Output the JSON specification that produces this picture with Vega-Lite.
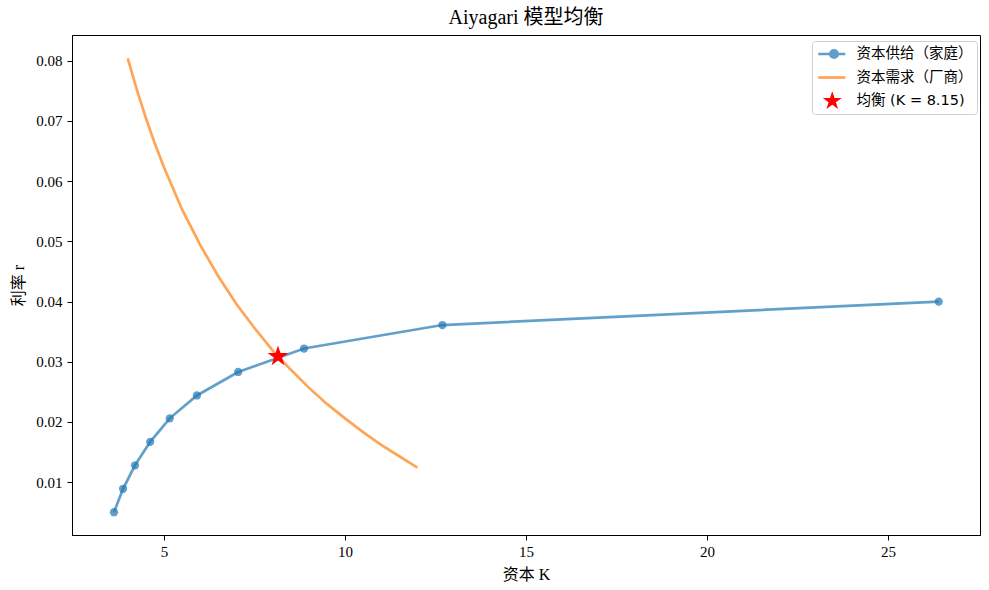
{
  "$schema": "https://vega.github.io/schema/vega-lite/v6.json",
  "width": 908,
  "height": 500,
  "autosize": "none",
  "padding": {"left": 72, "top": 35, "right": 9, "bottom": 55},
  "background": "white",
  "title": {
    "text": "Aiyagari 模型均衡",
    "font": "Liberation Serif, Noto Sans CJK SC",
    "fontSize": 20,
    "fontWeight": "normal",
    "color": "black",
    "offset": 7
  },
  "datasets": {
    "supply": [
      {"series": "资本供给（家庭）", "K": 3.62, "r": 0.005},
      {"series": "资本供给（家庭）", "K": 3.87, "r": 0.0089},
      {"series": "资本供给（家庭）", "K": 4.2, "r": 0.0128},
      {"series": "资本供给（家庭）", "K": 4.62, "r": 0.0167},
      {"series": "资本供给（家庭）", "K": 5.16, "r": 0.0206},
      {"series": "资本供给（家庭）", "K": 5.91, "r": 0.0244},
      {"series": "资本供给（家庭）", "K": 7.05, "r": 0.0283},
      {"series": "资本供给（家庭）", "K": 8.87, "r": 0.0322},
      {"series": "资本供给（家庭）", "K": 12.69, "r": 0.0361},
      {"series": "资本供给（家庭）", "K": 26.4, "r": 0.04}
    ],
    "demand": [
      {"series": "资本需求（厂商）", "K": 4.0, "r": 0.0804},
      {"series": "资本需求（厂商）", "K": 4.25, "r": 0.0752},
      {"series": "资本需求（厂商）", "K": 4.5, "r": 0.0705},
      {"series": "资本需求（厂商）", "K": 4.75, "r": 0.0662},
      {"series": "资本需求（厂商）", "K": 5.0, "r": 0.0623},
      {"series": "资本需求（厂商）", "K": 5.5, "r": 0.0553},
      {"series": "资本需求（厂商）", "K": 6.0, "r": 0.0494},
      {"series": "资本需求（厂商）", "K": 6.5, "r": 0.0442},
      {"series": "资本需求（厂商）", "K": 7.0, "r": 0.0396},
      {"series": "资本需求（厂商）", "K": 7.5, "r": 0.0356},
      {"series": "资本需求（厂商）", "K": 8.0, "r": 0.0319},
      {"series": "资本需求（厂商）", "K": 8.5, "r": 0.0287},
      {"series": "资本需求（厂商）", "K": 9.0, "r": 0.0257},
      {"series": "资本需求（厂商）", "K": 9.5, "r": 0.023},
      {"series": "资本需求（厂商）", "K": 10.0, "r": 0.0206},
      {"series": "资本需求（厂商）", "K": 10.5, "r": 0.0183},
      {"series": "资本需求（厂商）", "K": 11.0, "r": 0.0162},
      {"series": "资本需求（厂商）", "K": 11.5, "r": 0.0143},
      {"series": "资本需求（厂商）", "K": 12.0, "r": 0.0124}
    ],
    "equilibrium": [
      {"series": "均衡 (K = 8.15)", "K": 8.15, "r": 0.0309}
    ]
  },
  "layer": [
    {
      "data": {"name": "supply"},
      "mark": {"type": "line", "strokeWidth": 2.7, "opacity": 0.7, "color": "#1f77b4"},
      "encoding": {
        "x": {
          "field": "K",
          "type": "quantitative",
          "title": "资本 K",
          "scale": {"domain": [2.46, 27.54], "nice": false, "zero": false},
          "axis": {"values": [5, 10, 15, 20, 25], "titlePadding": 7}
        },
        "y": {
          "field": "r",
          "type": "quantitative",
          "title": "利率 r",
          "scale": {"domain": [0.00122, 0.08428], "nice": false, "zero": false},
          "axis": {
            "values": [0.01, 0.02, 0.03, 0.04, 0.05, 0.06, 0.07, 0.08],
            "format": ".2f",
            "labelPadding": 5,
            "titlePadding": 9
          }
        }
      }
    },
    {
      "data": {"name": "supply"},
      "mark": {"type": "point", "shape": "circle", "filled": true, "size": 68, "opacity": 0.7},
      "encoding": {
        "x": {"field": "K", "type": "quantitative"},
        "y": {"field": "r", "type": "quantitative"},
        "color": {
          "field": "series",
          "type": "nominal",
          "scale": {
            "domain": ["资本供给（家庭）", "资本需求（厂商）", "均衡 (K = 8.15)"],
            "range": ["#1f77b4", "#ff7f0e", "red"]
          },
          "legend": {
            "title": null,
            "orient": "none",
            "legendX": 740,
            "legendY": 6,
            "fillColor": "white",
            "strokeColor": "#d0d0d0",
            "cornerRadius": 3,
            "padding": 4,
            "rowPadding": 5.5,
            "clipHeight": 18,
            "symbolSize": 100,
            "symbolType": "circle",
            "labelOffset": 26,
            "labelLimit": 300,
            "labelFont": "DejaVu Sans, Noto Sans CJK SC",
            "labelFontSize": 14.5,
            "labelColor": "black",
            "encoding": {
              "symbols": {
                "shape": {"value": {"expr": "datum.value === '资本供给（家庭）' ? 'M-1,0H4.4M2.9,0A0.75,0.75,0,1,1,1.4,0A0.75,0.75,0,1,1,2.9,0' : datum.value === '资本需求（厂商）' ? 'M-1,0H4.4' : 'M1.8,-2L2.249,-0.618L3.702,-0.618L2.526,0.236L2.976,1.618L1.8,0.764L0.624,1.618L1.074,0.236L-0.102,-0.618L1.351,-0.618Z'"}},
                "fill": {"value": {"expr": "datum.value === '资本供给（家庭）' ? '#1f77b4' : datum.value === '资本需求（厂商）' ? 'transparent' : 'red'"}},
                "stroke": {"value": {"expr": "datum.value === '资本供给（家庭）' ? '#1f77b4' : datum.value === '资本需求（厂商）' ? '#ff7f0e' : 'red'"}},
                "strokeWidth": {"value": {"expr": "datum.value === '均衡 (K = 8.15)' ? 0 : 2.7"}},
                "opacity": {"value": {"expr": "datum.value === '均衡 (K = 8.15)' ? 1 : 0.7"}}
              }
            }
          }
        }
      }
    },
    {
      "data": {"name": "demand"},
      "mark": {"type": "line", "strokeWidth": 2.7, "opacity": 0.7, "color": "#ff7f0e"},
      "encoding": {
        "x": {"field": "K", "type": "quantitative"},
        "y": {"field": "r", "type": "quantitative"}
      }
    },
    {
      "data": {"name": "equilibrium"},
      "mark": {
        "type": "point",
        "shape": "M0,-1L0.2245,-0.309L0.951,-0.309L0.363,0.118L0.588,0.809L0,0.382L-0.588,0.809L-0.363,0.118L-0.951,-0.309L-0.2245,-0.309Z",
        "filled": true,
        "size": 480,
        "opacity": 1
      },
      "encoding": {
        "x": {"field": "K", "type": "quantitative"},
        "y": {"field": "r", "type": "quantitative"},
        "color": {"field": "series", "type": "nominal"}
      }
    }
  ],
  "config": {
    "view": {"stroke": "black", "strokeWidth": 1},
    "axis": {
      "grid": false,
      "domainColor": "black",
      "tickColor": "black",
      "tickSize": 5,
      "labelColor": "black",
      "labelFont": "Liberation Serif",
      "labelFontSize": 15,
      "labelPadding": 4,
      "titleColor": "black",
      "titleFont": "Liberation Serif, Noto Sans CJK SC",
      "titleFontSize": 16,
      "titleFontWeight": "normal"
    }
  }
}
